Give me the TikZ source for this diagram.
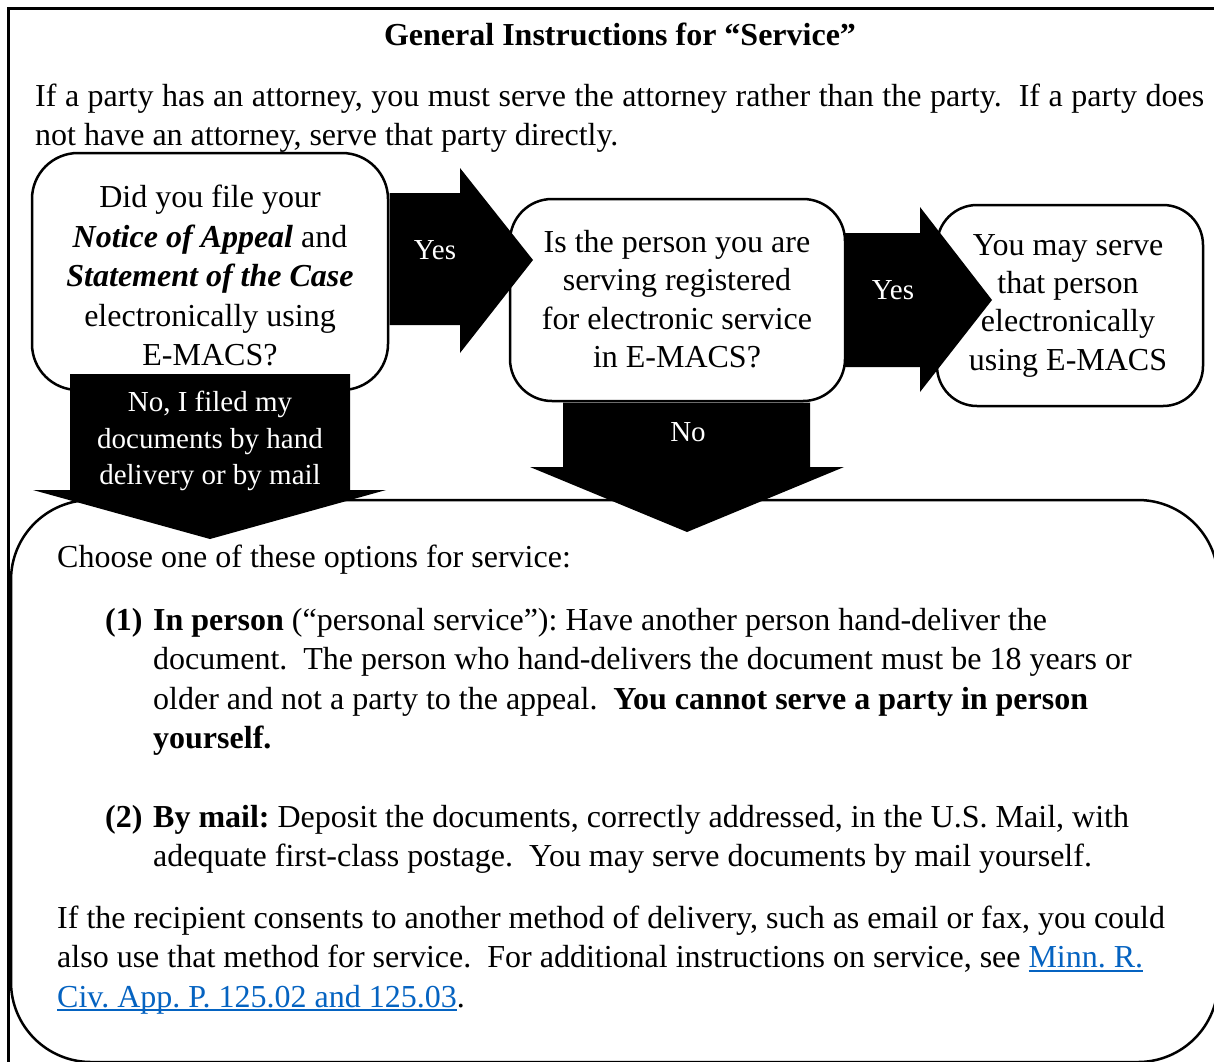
\documentclass[tikz,border=0pt]{standalone}
\usepackage{fontspec}
\setmainfont{Liberation Serif}
\definecolor{linkblue}{RGB}{5,99,193}
\newcommand\lnkul[1]{\textcolor{linkblue}{\setbox0\hbox{#1}\rlap{\rule[-4pt]{\wd0}{2pt}}\box0}}
\begin{document}
\frenchspacing
\begin{tikzpicture}[x=1pt,y=-1pt,
  body/.style={font=\fontsize{32}{39.5}\selectfont, inner sep=0pt, anchor=base west},
  box/.style={draw, line width=2.5pt, fill=white, inner sep=0pt},
  blk/.style={fill=black},
  albl/.style={text=white, font=\fontsize{29}{36.5}\selectfont, align=center, inner sep=0pt},
  boxtxt/.style={font=\fontsize{32}{39.5}\selectfont, align=center, inner sep=0pt},
  lnk/.style={text=linkblue}]
\useasboundingbox (0,0) rectangle (1214,1061);
\clip (0,0) rectangle (1214,1061);
% outer frame
\draw[line width=3pt] (8.5,1070) -- (8.5,8) -- (1220,8);
% big bottom box
\draw[line width=2.5pt, rounded corners=80pt, fill=white] (11,500) rectangle (1218,1062);
% title and intro
\node[font=\fontsize{32}{39.5}\selectfont\bfseries, inner sep=0pt, anchor=base] (title) at (620,45) {General Instructions for “Service”};
\node[body] (p1) at (35,106) {\hbox to 1169pt{If a party has an attorney, you must serve the attorney rather than the party.\ \ If a party does}};
\node[body] (p2) at (35,145) {not have an attorney, serve that party directly.};
% boxes
\node[box, rounded corners=42pt, minimum width=335pt, minimum height=202pt] (boxB) at (677.5,300) {};
\node[box, rounded corners=40pt, minimum width=266pt, minimum height=201pt] (boxC) at (1070,305.5) {};
% Yes arrow 2
\fill[blk] (844,233) -- (920,233) -- (920,207) -- (992,300) -- (920,392) -- (920,367) -- (844,367) -- cycle;
% box A
\node[box, rounded corners=46pt, minimum width=356pt, minimum height=237pt] (boxA) at (210,271.5) {};
% Yes arrow 1
\fill[blk] (389.5,193) -- (460,193) -- (460,168) -- (533,260) -- (460,353) -- (460,325) -- (389.5,325) -- cycle;
% No arrow
\fill[blk] (563,402.5) -- (810,402.5) -- (810,467) -- (844,467) -- (687,532) -- (530,467) -- (563,467) -- cycle;
% down arrow 1
\fill[blk] (70,374) -- (350,374) -- (350,490) -- (386,490) -- (210,539) -- (33,490) -- (70,490) -- cycle;
% box texts
\node[boxtxt] (tA) at (210,275.5) {Did you file your\\\textbf{\textit{Notice of Appeal}} and\\\textbf{\textit{Statement of the Case}}\\electronically using\\E-MACS?};
\node[boxtxt, font=\fontsize{32}{38.5}\selectfont] (tB) at (677,299.3) {Is the person you are\\serving registered\\for electronic service\\in E-MACS?};
\node[boxtxt, font=\fontsize{32}{38.3}\selectfont] (tC) at (1068,305.8) {You may serve\\that person\\electronically\\using E-MACS};
% arrow labels
\node[albl] (yes1) at (435,250) {Yes};
\node[albl] (yes2) at (893,290) {Yes};
\node[albl] (no2) at (688,432) {No};
\node[albl] (no1) at (210,441) {No, I filed my\\documents by hand\\delivery or by mail};
% bottom box text
\node[body] (c0) at (57,567) {Choose one of these options for service:};
\node[body] (n1) at (105,630) {\textbf{(1)}};
\node[body] (l1a) at (153,630) {\textbf{In person} (“personal service”): Have another person hand-deliver the};
\node[body] (l1b) at (153,669.5) {document.\ \ The person who hand-delivers the document must be 18 years or};
\node[body] (l1c) at (153,709) {older and not a party to the appeal.\ \ \textbf{You cannot serve a party in person}};
\node[body] (l1d) at (153,748.5) {\textbf{yourself.}};
\node[body] (n2) at (105,827) {\textbf{(2)}};
\node[body] (l2a) at (153,827) {\textbf{By mail:} Deposit the documents, correctly addressed, in the U.S. Mail, with};
\node[body] (l2b) at (153,866.5) {adequate first-class postage.\ \ You may serve documents by mail yourself.};
\node[body] (r1) at (57,928) {If the recipient consents to another method of delivery, such as email or fax, you could};
\node[body] (r2) at (57,967.5) {also use that method for service.\ \ For additional instructions on service, see \lnkul{Minn. R.}};
\node[body] (r3) at (57,1007) {\lnkul{Civ. App. P. 125.02 and 125.03}.};
\end{tikzpicture}
\end{document}
